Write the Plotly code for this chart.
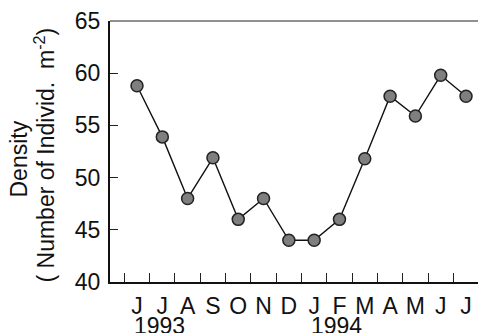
import plotly.graph_objects as go

months = ["J", "J", "A", "S", "O", "N", "D", "J", "F", "M", "A", "M", "J", "J"]
density = [58.8, 53.9, 48.0, 51.9, 46.0, 48.0, 44.0, 44.0, 46.0, 51.8, 57.8, 55.9, 59.8, 57.8]
years = ["1993", "1994"]
year_start_index = [0, 7]
y_ticks = [40, 45, 50, 55, 60, 65]

idx = list(range(len(months)))
boundaries = [i - 0.5 for i in range(len(months) + 1)]

FONT = "Liberation Sans, Arial, sans-serif"
FS = 23

fig = go.Figure()
fig.add_trace(go.Scatter(
    x=idx, y=density, mode="lines+markers",
    line=dict(color="#111111", width=1.4),
    marker=dict(size=12, color="#7f7f7f", line=dict(color="#222222", width=1.5)),
    showlegend=False,
))
# invisible trace to activate xaxis2 for month labels
fig.add_trace(go.Scatter(x=idx, y=density, xaxis="x2", mode="markers",
                         marker=dict(opacity=0), showlegend=False, hoverinfo="skip"))

xr = [-1.067, 13.79]
fig.update_layout(
    width=478, height=325,
    margin=dict(l=102, r=0, t=7, b=51),
    paper_bgcolor="white", plot_bgcolor="white",
    font=dict(family=FONT, color="#111111", size=FS),
    xaxis=dict(range=xr, tickmode="array", tickvals=boundaries, showticklabels=False,
               ticks="inside", ticklen=9, tickwidth=1.2, tickcolor="#222",
               showline=True, linewidth=2, linecolor="#111", showgrid=False, zeroline=False),
    xaxis2=dict(range=xr, overlaying="x", side="bottom", anchor="y", tickmode="array",
                tickvals=idx, ticktext=months, ticks="", showline=False, showgrid=False,
                zeroline=False, ticklabelstandoff=8, tickfont=dict(size=FS)),
    yaxis=dict(range=[40, 65], tickmode="array", tickvals=y_ticks, ticks="inside",
               ticklen=8, tickwidth=1.2, tickcolor="#222", showline=True, linewidth=2,
               linecolor="#111", showgrid=False, zeroline=False, ticklabelstandoff=3,
               ticklabeloverflow="allow", tickfont=dict(size=FS)),
)
fig.add_shape(type="line", xref="paper", yref="paper", x0=0, x1=1, y0=1, y1=1,
              line=dict(color="#222", width=1))

for yr, si in zip(years, year_start_index):
    fig.add_annotation(x=si, y=0, xref="x", yref="paper", text=yr, showarrow=False,
                       xanchor="left", yanchor="top", xshift=-5, yshift=-29,
                       font=dict(size=FS))

fig.add_annotation(xref="paper", yref="paper", x=0, y=0.5, text="Density",
                   textangle=-90, showarrow=False, xanchor="center", yanchor="middle",
                   xshift=-92, yshift=-8, font=dict(size=FS))
fig.add_annotation(xref="paper", yref="paper", x=0, y=0.5,
                   text="( Number of Individ.  m<sup>-2</sup>)",
                   textangle=-90, showarrow=False, xanchor="center", yanchor="middle",
                   xshift=-66, yshift=-4, font=dict(size=FS))

fig.write_html("out.html")
